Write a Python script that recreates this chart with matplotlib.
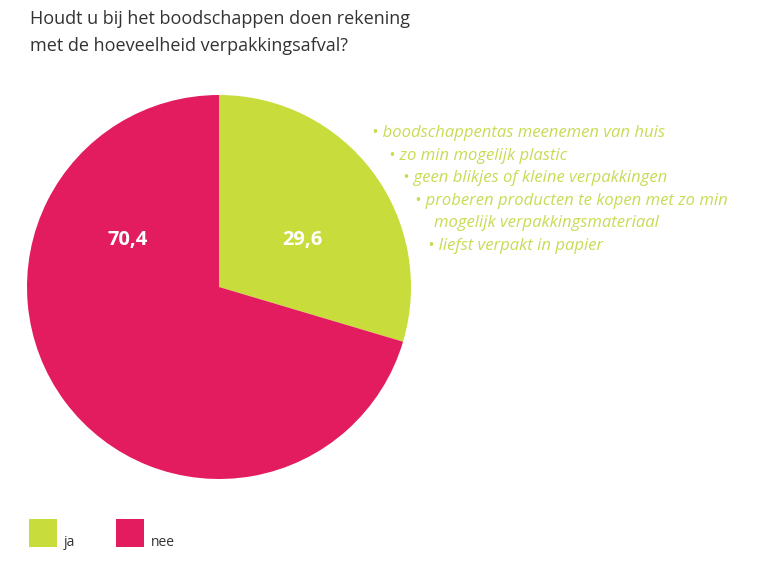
import matplotlib
matplotlib.use("Agg")
import matplotlib.pyplot as plt
from matplotlib.patches import Rectangle

W, H = 759, 564
categories = ["ja", "nee"]
values = [29.6, 70.4]
value_labels = ["29,6", "70,4"]
colors = ["#C8DC3C", "#E31B5F"]
title_lines = ["Houdt u bij het boodschappen doen rekening",
               "met de hoeveelheid verpakkingsafval?"]
notes = ["\u2022 boodschappentas meenemen van huis",
         "\u2022 zo min mogelijk plastic",
         "\u2022 geen blikjes of kleine verpakkingen",
         "\u2022 proberen producten te kopen met zo min",
         "mogelijk verpakkingsmateriaal",
         "\u2022 liefst verpakt in papier"]
note_x = [372, 389, 403, 415, 434, 428]

plt.rcParams['font.family'] = ['Open Sans', 'DejaVu Sans']
fig = plt.figure(figsize=(W/100, H/100), dpi=100)
ax = fig.add_axes([0, 0, 1, 1])

cx, cy, r = 219, H - 287, 192
ax.pie(values, colors=colors, startangle=90, counterclock=False,
       center=(cx, cy), radius=r, frame=True,
       wedgeprops=dict(linewidth=0))
ax.set_xlim(0, W)
ax.set_ylim(0, H)
ax.set_aspect('equal')
ax.axis('off')

label_pos = [(302, 240), (128, 240)]
for lab, (x, y) in zip(value_labels, label_pos):
    ax.text(x, H - y, lab, color='white', fontsize=14.5, fontweight='bold',
            ha='center', va='center')

for i, line in enumerate(title_lines):
    ax.text(30, H - (19 + i * 27), line, fontsize=13, color='#333333',
            ha='left', va='center')

for i, (line, x) in enumerate(zip(notes, note_x)):
    ax.text(x, H - (133 + i * 22.6), line, fontsize=12, style='italic',
            color='#C9DB55', ha='left', va='center')

leg_x = [29, 116]
for cat, col, x in zip(categories, colors, leg_x):
    ax.add_patch(Rectangle((x, H - 547), 28, 28, facecolor=col, edgecolor='none'))
    ax.text(x + 35, H - 543, cat, fontsize=10, color='#333333', ha='left', va='center')

fig.savefig("out.png", dpi=100)
